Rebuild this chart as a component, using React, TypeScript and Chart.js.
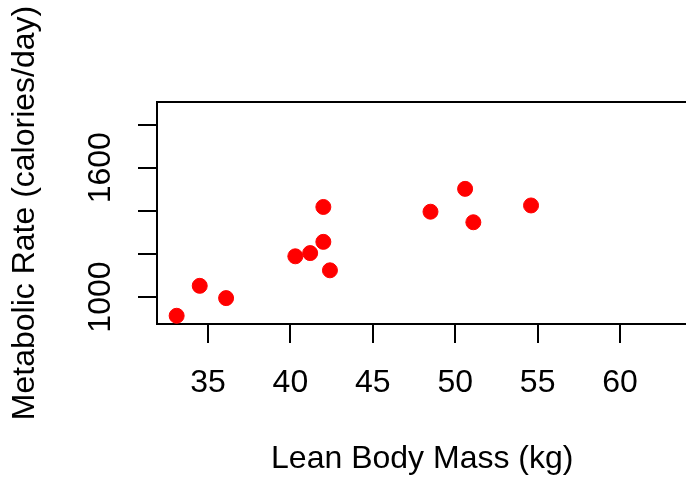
import React, { useEffect, useRef } from 'react';
import { Chart, registerables } from 'chart.js';

Chart.register(...registerables);

// Data (lean body mass in kg, metabolic rate in calories/day)
const leanBodyMass = [36.1, 54.6, 48.5, 42.0, 50.6, 42.0, 40.3, 33.1, 42.4, 34.5, 51.1, 41.2];
const metabolicRate = [995, 1425, 1396, 1418, 1502, 1256, 1189, 913, 1124, 1052, 1347, 1204];

const xTicks = [35, 40, 45, 50, 55, 60];
const yTicks = [1000, 1200, 1400, 1600, 1800];
const yTickLabels = ['1000', '', '', '1600', ''];
const xRange = [31.908, 64.092];
const yRange = [874.84, 1905.16];

const xTitle = 'Lean Body Mass (kg)';
const yTitle = 'Metabolic Rate (calories/day)';

const FONT = "'Liberation Sans', Arial, Helvetica, sans-serif";
const FS = 32;
const LW = 2;

const boxPlugin = {
  id: 'rbox',
  beforeDatasetsDraw(chart: any) {
    const { ctx, chartArea: a } = chart;
    ctx.save();
    ctx.strokeStyle = '#000';
    ctx.lineWidth = LW;
    ctx.strokeRect(a.left, a.top, a.right - a.left, a.bottom - a.top);
    ctx.restore();
  },
};

export default function App() {
  const ref = useRef<HTMLCanvasElement | null>(null);

  useEffect(() => {
    if (!ref.current) return;
    const chart = new Chart(ref.current, {
      type: 'scatter',
      data: {
        datasets: [
          {
            data: leanBodyMass.map((x, i) => ({ x, y: metabolicRate[i] })),
            backgroundColor: '#ff0000',
            borderColor: '#ff0000',
            borderWidth: 1,
            pointRadius: 7.5,
            pointHoverRadius: 7.5,
          },
        ],
      },
      options: {
        animation: false,
        responsive: false,
        devicePixelRatio: 1,
        events: [],
        layout: { padding: { top: 102, right: 12.5, left: 0, bottom: 0 } },
        plugins: { legend: { display: false }, tooltip: { enabled: false } },
        scales: {
          x: {
            type: 'linear',
            position: 'bottom',
            min: xRange[0],
            max: xRange[1],
            afterBuildTicks: (s: any) => {
              s.ticks = xTicks.map((v) => ({ value: v }));
            },
            afterFit: (s: any) => {
              s.height = 154;
            },
            border: { display: false },
            grid: {
              drawOnChartArea: false,
              drawTicks: true,
              tickLength: 19,
              color: '#000',
              lineWidth: LW,
            },
            ticks: {
              autoSkip: false,
              maxRotation: 0,
              minRotation: 0,
              padding: 21.2,
              color: '#000',
              font: { family: FONT, size: FS },
              callback: (v: any) => String(v),
            },
            title: {
              display: true,
              text: xTitle,
              color: '#000',
              font: { family: FONT, size: FS },
              padding: { top: 0, bottom: 0 },
            },
          },
          y: {
            type: 'linear',
            position: 'left',
            min: yRange[0],
            max: yRange[1],
            afterBuildTicks: (s: any) => {
              s.ticks = yTicks.map((v) => ({ value: v }));
            },
            afterFit: (s: any) => {
              s.width = 157;
            },
            border: { display: false },
            grid: {
              drawOnChartArea: false,
              drawTicks: true,
              tickLength: 19,
              color: '#000',
              lineWidth: LW,
            },
            ticks: {
              autoSkip: false,
              minRotation: 90,
              maxRotation: 90,
              crossAlign: 'center',
              padding: 1.1,
              color: '#000',
              font: { family: FONT, size: FS },
              callback: (_v: any, i: number) => yTickLabels[i],
            },
            title: {
              display: true,
              text: yTitle,
              color: '#000',
              font: { family: FONT, size: FS },
              padding: { top: 6.4, bottom: 0 },
            },
          },
        },
      } as any,
      plugins: [boxPlugin],
    });
    return () => chart.destroy();
  }, []);

  return (
    <div
      style={{
        position: 'absolute',
        left: 0,
        top: 0,
        width: 686,
        height: 478,
        overflow: 'hidden',
        background: '#fff',
      }}
    >
      <canvas ref={ref} width={700} height={478} style={{ display: 'block' }} />
    </div>
  );
}
